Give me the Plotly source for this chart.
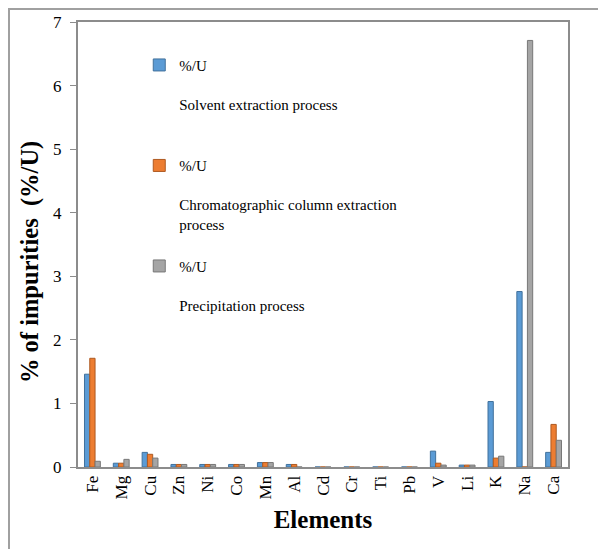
import plotly.graph_objects as go

elements = ["Fe", "Mg", "Cu", "Zn", "Ni", "Co", "Mn", "Al", "Cd", "Cr", "Ti", "Pb", "V", "Li", "K", "Na", "Ca"]
solvent = [1.46, 0.06, 0.23, 0.04, 0.04, 0.04, 0.07, 0.04, 0, 0, 0, 0, 0.25, 0.03, 1.03, 2.76, 0.23]
chromato = [1.71, 0.06, 0.20, 0.04, 0.04, 0.04, 0.07, 0.04, 0, 0, 0, 0, 0.06, 0.03, 0.14, 0, 0.67]
precip = [0.09, 0.12, 0.14, 0.04, 0.04, 0.04, 0.07, 0, 0, 0, 0, 0, 0.03, 0.03, 0.17, 6.71, 0.42]

names = [
    "%/U<br><br>Solvent extraction process<br><br>",
    "%/U<br><br>Chromatographic column extraction<br>process<br>",
    "%/U<br><br>Precipitation process",
]
fills = ["#5B9BD5", "#ED7D31", "#A5A5A5"]
edges = ["#41719C", "#AE5A21", "#787878"]

fig = go.Figure()
for vals, nm, fc, ec in zip([solvent, chromato, precip], names, fills, edges):
    fig.add_trace(go.Bar(x=elements, y=vals, name=nm,
                         marker=dict(color=fc, line=dict(color=ec, width=1))))

serif = "Liberation Serif"
# page body adds 8px offset; compensate in size/margins
fig.update_layout(
    width=598, height=541,
    margin=dict(l=70, r=38, t=14, b=82),
    paper_bgcolor="white", plot_bgcolor="white",
    barmode="group", bargap=0.45, bargroupgap=0,
    font=dict(family=serif, color="black", size=16),
    legend=dict(x=0.125, y=0.94, xanchor="left", yanchor="top",
                bgcolor="rgba(0,0,0,0)", valign="top",
                font=dict(family=serif, size=15), tracegroupgap=0),
    xaxis=dict(showline=True, linecolor="#8C8C8C", linewidth=2, mirror=True,
               automargin=False,
               ticks="", tickangle=-90, tickfont=dict(size=17),
               title=dict(text="<b>Elements</b>", font=dict(size=25), standoff=12)),
    yaxis=dict(range=[0, 7], dtick=1, showline=True, linecolor="#8C8C8C", linewidth=2,
               mirror=True, ticks="outside", ticklen=6, tickcolor="#8C8C8C",
               ticklabelstandoff=5, automargin=False,
               tickfont=dict(size=17), showgrid=False, zeroline=False),
    annotations=[dict(text="<b>% of impurities  (%/U)</b>", textangle=-90,
                      xref="paper", yref="paper", x=(30 - 78) / 490, y=(467 - 262) / 445,
                      xanchor="center", yanchor="middle", showarrow=False,
                      font=dict(family=serif, size=24.5, color="black"))],
    shapes=[dict(type="rect", xref="paper", yref="paper",
                 x0=(9 - 78) / 490, x1=(640 - 78) / 490,
                 y0=(467 - 600) / 445, y1=(467 - 9) / 445,
                 line=dict(color="#A0A0A0", width=2), layer="below")],
)
fig.write_html("out.html")
